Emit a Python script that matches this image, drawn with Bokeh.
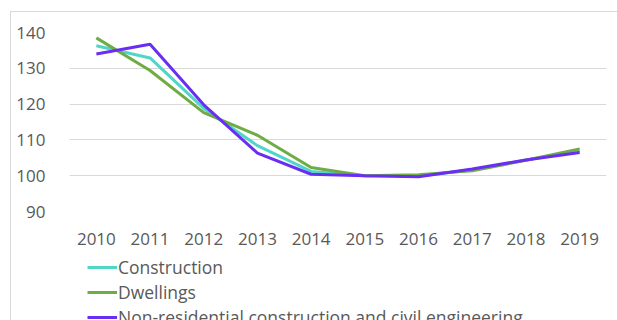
from bokeh.plotting import figure
from bokeh.models import Range1d, FactorRange, Legend, LegendItem, FixedTicker, Column
from bokeh.embed import file_html
from bokeh.resources import INLINE

years = ["2010", "2011", "2012", "2013", "2014", "2015", "2016", "2017", "2018", "2019"]
construction = [136.3, 132.9, 118.8, 108.4, 101.2, 100.0, 100.0, 101.6, 104.4, 107.0]
dwellings = [138.5, 129.4, 117.6, 111.3, 102.3, 100.0, 100.3, 101.4, 104.3, 107.5]
nonres = [134.0, 136.7, 119.8, 106.3, 100.4, 100.0, 99.7, 101.9, 104.4, 106.5]
series_names = ["Construction", "Dwellings", "Non-residential construction and civil engineering"]
y_ticks = [90, 100, 110, 120, 130, 140]

colors = ["#4fd6c8", "#6fac46", "#6a2ef2"]
FONT = "Open Sans"
TXT = "#595959"
all_series = [construction, dwellings, nonres]

# main chart
p = figure(width=606, height=242, x_range=FactorRange(*years), y_range=Range1d(90, 140),
           output_backend="svg", toolbar_location=None,
           min_border_left=58, min_border_right=11, min_border_top=20, min_border_bottom=43)
p.outline_line_color = None
p.background_fill_color = "white"
p.border_fill_color = "white"
for vals, c in zip(all_series, colors):
    p.line(years, vals, line_color=c, line_width=3)

p.xgrid.grid_line_color = None
p.ygrid.grid_line_color = "#d9d9d9"
p.ygrid.grid_line_width = 1
p.yaxis.ticker = FixedTicker(ticks=y_ticks)
for ax in (p.xaxis[0], p.yaxis[0]):
    ax.axis_line_color = None
    ax.major_tick_line_color = None
    ax.minor_tick_line_color = None
    ax.major_label_text_font = FONT
    ax.major_label_text_font_size = "17px"
    ax.major_label_text_color = TXT
p.xaxis.major_label_standoff = 15
p.yaxis.major_label_standoff = 18

# legend strip (same series, drawn outside its view so only the legend shows)
q = figure(width=606, height=66, x_range=FactorRange(*years), y_range=Range1d(0, 1),
           output_backend="svg", toolbar_location=None,
           x_axis_location=None, y_axis_location=None,
           min_border=0)
q.outline_line_color = None
q.grid.grid_line_color = None
q.background_fill_color = "white"
q.border_fill_color = "white"
rs = [q.line(years, vals, line_color=c, line_width=3) for vals, c in zip(all_series, colors)]

legend = Legend(items=[LegendItem(label=n, renderers=[r]) for n, r in zip(series_names, rs)],
                location=(18, -9), orientation="vertical")
legend.label_text_font = FONT
legend.label_text_font_size = "17.5px"
legend.label_text_color = TXT
legend.glyph_width = 30
legend.glyph_height = 24
legend.label_height = 24
legend.spacing = 1
legend.padding = 0
legend.margin = 0
legend.label_standoff = 1
legend.border_line_color = None
legend.background_fill_alpha = 0
q.add_layout(legend, "center")

layout = Column(p, q, spacing=0, margin=(11, 0, 0, 10),
                styles={"border-left": "1px solid #d9d9d9", "border-top": "1px solid #d9d9d9"})

open("out.html", "w").write(file_html(layout, INLINE))
